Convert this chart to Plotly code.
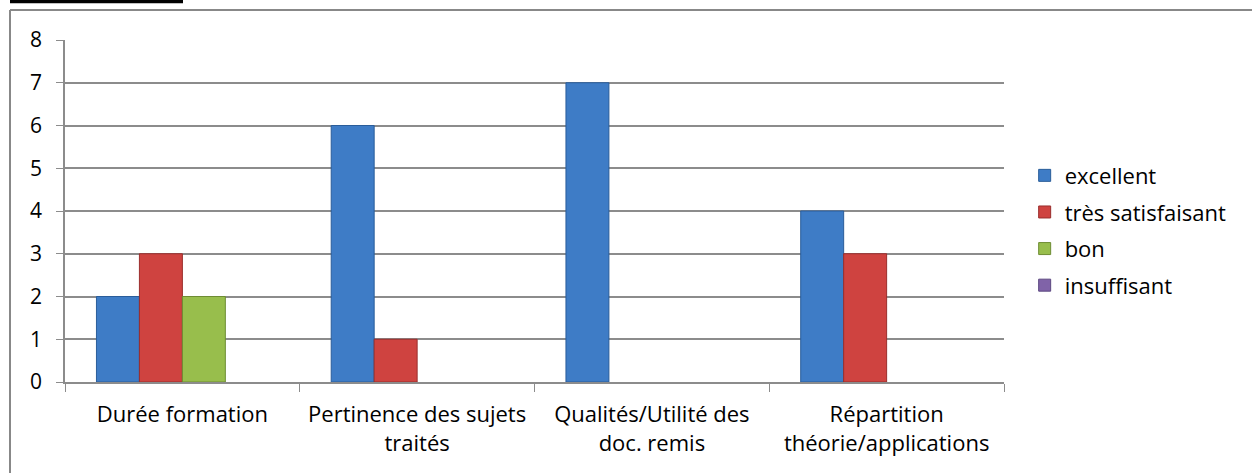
import plotly.graph_objects as go

categories = [
    "Durée formation",
    "Pertinence des sujets<br>traités",
    "Qualités/Utilité des<br>doc. remis",
    "Répartition<br>théorie/applications",
]
series_names = ["excellent", "très satisfaisant", "bon", "insuffisant"]
excellent = [2, 6, 7, 4]
tres_satisfaisant = [3, 1, 0, 3]
bon = [2, 0, 0, 0]
insuffisant = [0, 0, 0, 0]
y_ticks = [0, 1, 2, 3, 4, 5, 6, 7, 8]

values = [excellent, tres_satisfaisant, bon, insuffisant]
fills = ["#3E7CC6", "#CF4340", "#98BE4C", "#8063A8"]
edges = ["#2A5D9A", "#9A2E2C", "#6E8C33", "#5C4880"]

fig = go.Figure()
for i, (name, vals) in enumerate(zip(series_names, values)):
    shown = [v if v != 0 else None for v in vals]
    fig.add_trace(go.Bar(
        x=categories, y=shown, name=name,
        marker=dict(color=fills[i], line=dict(color=edges[i], width=1)),
        legendgroup=name,
    ))

font = "Open Sans, Noto Sans, DejaVu Sans, sans-serif"
fig.update_layout(
    width=1252, height=473,
    margin=dict(l=65, r=248, t=40, b=91),
    paper_bgcolor="white", plot_bgcolor="white",
    barmode="group", bargap=0.268, bargroupgap=0,
    font=dict(family=font, size=22, color="black"),
    legend=dict(x=1.022, y=0.665, xanchor="left", yanchor="top",
                font=dict(size=22), tracegroupgap=5, itemwidth=30),
    showlegend=True,
    shapes=[
        dict(type="line", xref="paper", yref="paper",
             x0=-55/939, x1=1190/939, y0=(382-10)/342, y1=(382-10)/342,
             line=dict(color="#888888", width=2)),
        dict(type="line", xref="paper", yref="paper",
             x0=-55/939, x1=-55/939, y0=(382-10)/342, y1=-100/342,
             line=dict(color="#888888", width=2)),
        dict(type="line", xref="paper", yref="paper",
             x0=-55/939, x1=118/939, y0=(382-1.5)/342, y1=(382-1.5)/342,
             line=dict(color="black", width=3.5)),
    ],
)
fig.update_yaxes(
    range=[0, 8], tickvals=y_ticks, showgrid=True, gridcolor="#8C8C8C", gridwidth=1.5,
    showline=True, linecolor="#8C8C8C", linewidth=1.5,
    ticks="outside", ticklen=7, tickcolor="#8C8C8C", ticklabelstandoff=10,
    tickfont=dict(size=21), zeroline=False, automargin=False,
)
fig.update_xaxes(
    showline=True, linecolor="#8C8C8C", linewidth=1.5,
    ticks="outside", ticklen=8, tickcolor="#8C8C8C", tickson="boundaries",
    ticklabelstandoff=12,
    tickfont=dict(size=22), showgrid=False, automargin=False,
)
fig.write_html("out.html", config={"displayModeBar": False},
               post_script="document.body.style.margin='0';")
